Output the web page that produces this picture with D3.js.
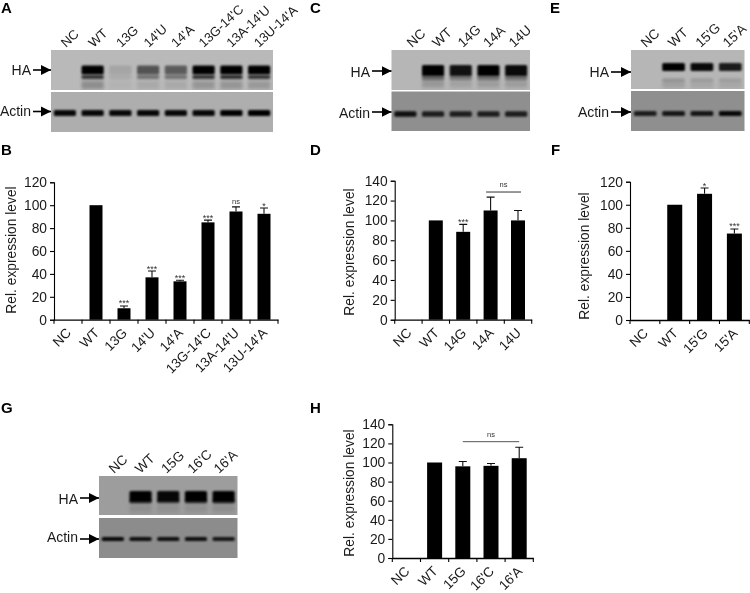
<!DOCTYPE html>
<html><head><meta charset="utf-8">
<script src="https://cdn.jsdelivr.net/npm/d3@7"></script>
<style>html,body{margin:0;padding:0;background:#fff}svg{display:block;filter:blur(.35px)}text{font-family:"Liberation Sans",Arial,sans-serif;fill:#1a1a1a}</style>
</head><body><svg id="c" width="750" height="593"></svg>
<script>
// ---- data ----
const catsB=["NC","WT","13G","14'U","14'A","13G-14'C","13A-14'U","13U-14'A"];
const valsB=[0,100,10,37,33.5,85,94.5,92.5];
const errsB=[0,0,2,5.5,1,2,4,5];
const sigB=["","","***","***","***","***","ns","*"];
const ticksB=[0,20,40,60,80,100,120];

const catsD=["NC","WT","14G","14A","14U"];
const valsD=[0,100,88.5,110,100];
const errsD=[0,0,7.5,13.5,10];
const sigD=["","","***","",""];
const ticksD=[0,20,40,60,80,100,120,140];

const catsF=["NC","WT","15'G","15'A"];
const valsF=[0,100,109.5,75];
const errsF=[0,0,5,4];
const sigF=["","","*","***"];
const ticksF=[0,20,40,60,80,100,120];

const catsH=["NC","WT","15G","16'C","16'A"];
const valsH=[0,100,96,96.5,104.5];
const errsH=[0,0,5,2.5,11.5];
const sigH=["","","","",""];
const ticksH=[0,20,40,60,80,100,120,140];

// band strengths per lane (0-1)
const haMainA=[0,1,.1,.55,.5,1,1,1];
const haLowA=[0,.75,.08,.4,.4,.75,.8,.75];
const haSmearA=[0,.3,.04,.1,.1,.24,.24,.22];
const actinA=[.95,.95,.95,.95,.95,.95,1,1];

const haMainC=[0,1,.9,1,.95];
const haLowC=[0,.45,.35,.4,.4];
const haSmearC=[0,.22,.14,.18,.18];
const actinC=[.9,.8,.8,.8,.8];

const haMainE=[0,1,.95,.85];
const haLowE=[0,.15,.12,.1];
const haSmearE=[0,.14,.1,.1];
const actinE=[.8,.85,.85,.95];

const haMainG=[0,1,.95,1,1];
const haLowG=[0,.55,.4,.5,.6];
const haSmearG=[0,.12,.1,.1,.12];
const actinG=[.95,.9,.9,.9,.85];

// ---- layout ----
const svg=d3.select("#c");
const defs=svg.append("defs");
defs.append("filter").attr("id","b1").attr("x","-30%").attr("y","-100%").attr("width","160%").attr("height","300%")
  .append("feGaussianBlur").attr("stdDeviation","1.3 1.0");
defs.append("filter").attr("id","b2").attr("x","-30%").attr("y","-100%").attr("width","160%").attr("height","300%")
  .append("feGaussianBlur").attr("stdDeviation","1.5 2.2");
const mk=defs.append("marker").attr("id","ah").attr("viewBox","0 0 10 10").attr("refX",10).attr("refY",5)
  .attr("markerUnits","userSpaceOnUse").attr("markerWidth",10).attr("markerHeight",12).attr("orient","auto");
mk.append("path").attr("d","M0,0L10,5L0,10Z").attr("fill","#000");

let cid=0;
function blot(o){
  const g=svg.append("g");
  const x=d3.scaleBand().domain(o.cats).range([o.x0,o.x1]);
  const lx=d3.scalePoint().domain(o.cats).range(o.lblRange);
  const id="clip"+(cid++);
  const cp=defs.append("clipPath").attr("id",id);
  [[o.haY,o.haBg],[o.acY,o.acBg]].forEach(([yy,bg])=>{
    cp.append("rect").attr("x",o.x0).attr("y",yy[0]).attr("width",o.x1-o.x0).attr("height",yy[1]-yy[0]);
    g.append("rect").attr("x",o.x0).attr("y",yy[0]).attr("width",o.x1-o.x0).attr("height",yy[1]-yy[0]).attr("fill",bg);
  });
  const bands=g.append("g").attr("clip-path",`url(#${id})`);
  const w=x.bandwidth()*.8;
  function row(vals,cy,h,filt,col){
    bands.selectAll(null).data(o.cats).join("rect")
      .attr("x",d=>x(d)+(x.bandwidth()-w)/2).attr("width",w)
      .attr("y",cy-h/2).attr("height",h).attr("rx",1.5)
      .attr("fill",col).attr("opacity",(d,i)=>vals[i]).attr("filter",`url(#${filt})`);
  }
  row(o.smear,o.haCy+o.smearD,8,"b2","#222");
  row(o.low,o.haCy+o.lowD,o.lowH,"b1","#0a0a0a");
  row(o.main,o.haCy,o.mainH,"b1","#000");
  row(o.actin,o.acCy,o.acH,"b1","#050505");
  // lane labels
  g.selectAll(null).data(o.cats).join("text")
    .attr("transform",d=>`translate(${lx(d)},${o.haY[0]-2}) rotate(-43)`)
    .attr("font-size",o.lblSize).attr("text-anchor","start").text(d=>d);
  // arrows
  [["HA",o.haArrow,o.haLblY],["Actin",o.acArrow,o.acLblY]].forEach(([t,ay,ly])=>{
    g.append("text").attr("x",o.lblEnd).attr("y",ly).attr("text-anchor","end").attr("font-size",14).text(t);
    g.append("line").attr("x1",o.lblEnd+2).attr("x2",o.x0).attr("y1",ay).attr("y2",ay)
      .attr("stroke","#000").attr("stroke-width",1.6).attr("marker-end","url(#ah)");
  });
}

function bars(o){
  const g=svg.append("g");
  const x=d3.scaleBand().domain(o.cats).range([o.x0,o.x1]);
  const y=d3.scaleLinear().domain([0,d3.max(o.ticks)]).range([o.y0,o.y1]);
  const cx=d=>x(d)+x.bandwidth()/2;
  g.selectAll(null).data(o.cats).join("rect")
    .attr("x",d=>cx(d)-o.bw/2).attr("width",o.bw)
    .attr("y",(d,i)=>y(o.vals[i])).attr("height",(d,i)=>o.y0-y(o.vals[i])).attr("fill","#000");
  const e=o.cats.map((d,i)=>({d,v:o.vals[i],e:o.errs[i],s:o.sig[i]}));
  const ee=e.filter(k=>k.e>0);
  g.selectAll(null).data(ee).join("path")
    .attr("d",k=>`M${cx(k.d)},${y(k.v)}V${y(k.v+k.e)}M${cx(k.d)-4},${y(k.v+k.e)}H${cx(k.d)+4}`)
    .attr("stroke","#111").attr("stroke-width",1.1).attr("fill","none");
  g.selectAll(null).data(e.filter(k=>k.s)).join("text")
    .attr("x",k=>cx(k.d)).attr("y",k=>y(k.v+k.e)-(k.s==="ns"?2.5:-0.5)).attr("text-anchor","middle")
    .attr("font-size",k=>k.s==="ns"?7.5:9).style("fill","#333").text(k=>k.s);
  if(o.bracket){
    const b=o.bracket, x1=cx(b.from)+b.dx[0], x2=cx(b.to)+b.dx[1];
    g.append("line").attr("x1",x1).attr("x2",x2).attr("y1",y(b.v)).attr("y2",y(b.v)).attr("stroke",b.col).attr("stroke-width",1);
    g.append("text").attr("x",(x1+x2)/2).attr("y",y(b.v)-5).attr("text-anchor","middle").attr("font-size",7.5).style("fill","#333").text("ns");
  }
  const ay=g.append("g").attr("transform",`translate(${o.x0},0)`).call(d3.axisLeft(y).tickValues(o.ticks).tickSize(4).tickPadding(3));
  ay.selectAll("text").attr("font-size",13.8).attr("font-family",null);
  const ax=g.append("g").attr("transform",`translate(0,${o.y0})`).call(d3.axisBottom(x).tickValues([]).tickSize(0).tickSizeOuter(0));
  ay.selectAll("path,line").attr("stroke","#000").attr("stroke-width",1.1);
  ax.selectAll("path").attr("stroke","#000").attr("stroke-width",1.3);
  const edges=o.cats.map(d=>x(d)).concat([o.x1]);
  g.selectAll(null).data(edges).join("line").attr("x1",d=>d).attr("x2",d=>d).attr("y1",o.y0).attr("y2",o.y0+4).attr("stroke","#000").attr("stroke-width",1.1);
  g.selectAll(null).data(o.cats).join("text")
    .attr("transform",d=>`translate(${cx(d)+4},${o.y0+14}) rotate(-45)`)
    .attr("text-anchor","end").attr("font-size",13.5).text(d=>d);
  g.append("text").attr("transform",`translate(${o.titleX},${o.titleY}) rotate(-90)`)
    .attr("text-anchor","middle").attr("font-size",13.8).text("Rel. expression level");
}

blot({cats:catsB,x0:51,x1:273,haY:[50,90],acY:[92,132],haBg:"#b9b9b9",acBg:"#aeaeae",haCy:70,mainH:9,lowD:7,lowH:4,smearD:15,acCy:113,acH:6,lblSize:13,
  main:haMainA,low:haLowA,smear:haSmearA,actin:actinA,lblRange:[66,259],lblEnd:31,haArrow:70,acArrow:111.5,haLblY:75,acLblY:115.5});
blot({cats:catsD,x0:391.5,x1:530,haY:[50,90],acY:[91.5,131],haBg:"#b6b6b6",acBg:"#8f8f8f",haCy:70.5,mainH:11,lowD:7,lowH:5,smearD:13,acCy:114,acH:5.5,lblSize:13.5,
  main:haMainC,low:haLowC,smear:haSmearC,actin:actinC,lblRange:[412,514],lblEnd:370,haArrow:71,acArrow:112,haLblY:77,acLblY:118});
blot({cats:catsF,x0:631,x1:744.5,haY:[50,89],acY:[91,131],haBg:"#b6b6b6",acBg:"#8f8f8f",haCy:67,mainH:8,lowD:13,lowH:3,smearD:17,acCy:113.5,acH:5,lblSize:13.5,
  main:haMainE,low:haLowE,smear:haSmearE,actin:actinE,lblRange:[646,728],lblEnd:609,haArrow:72,acArrow:112,haLblY:77,acLblY:117});
blot({cats:catsH,x0:99,x1:237.5,haY:[476,515],acY:[518,558],haBg:"#9d9d9d",acBg:"#8c8c8c",haCy:496.5,mainH:11,lowD:5,lowH:4,smearD:12,acCy:539,acH:4,lblSize:13.5,
  main:haMainG,low:haLowG,smear:haSmearG,actin:actinG,lblRange:[114,219],lblEnd:78,haArrow:498,acArrow:539,haLblY:504,acLblY:542});

bars({cats:catsB,vals:valsB,errs:errsB,sig:sigB,ticks:ticksB,x0:54,x1:278,y0:319.7,y1:182.3,bw:13,titleX:16,titleY:250});
bars({cats:catsD,vals:valsD,errs:errsD,sig:sigD,ticks:ticksD,x0:394.7,x1:531.7,y0:319.7,y1:180.7,bw:14,titleX:354,titleY:252,
  bracket:{from:"14A",to:"14U",v:128.6,dx:[-4.5,3],col:"#333"}});
bars({cats:catsF,vals:valsF,errs:errsF,sig:sigF,ticks:ticksF,x0:630,x1:749.3,y0:320,y1:181.7,bw:15,titleX:589,titleY:256});
bars({cats:catsH,vals:valsH,errs:errsH,sig:sigH,ticks:ticksH,x0:392.3,x1:533.3,y0:558,y1:424.3,bw:15,titleX:354,titleY:493,
  bracket:{from:"15G",to:"16'A",v:121.8,dx:[0,0],col:"#555"}});

[["A",1,13],["B",1,155],["C",310,13],["D",310,155],["E",550,13],["F",551,155],["G",1,413],["H",310,413]].forEach(([t,x,y])=>{
  svg.append("text").attr("x",x).attr("y",y).attr("font-size",15).attr("font-weight","bold").style("fill","#000").text(t);
});
</script></body></html>
